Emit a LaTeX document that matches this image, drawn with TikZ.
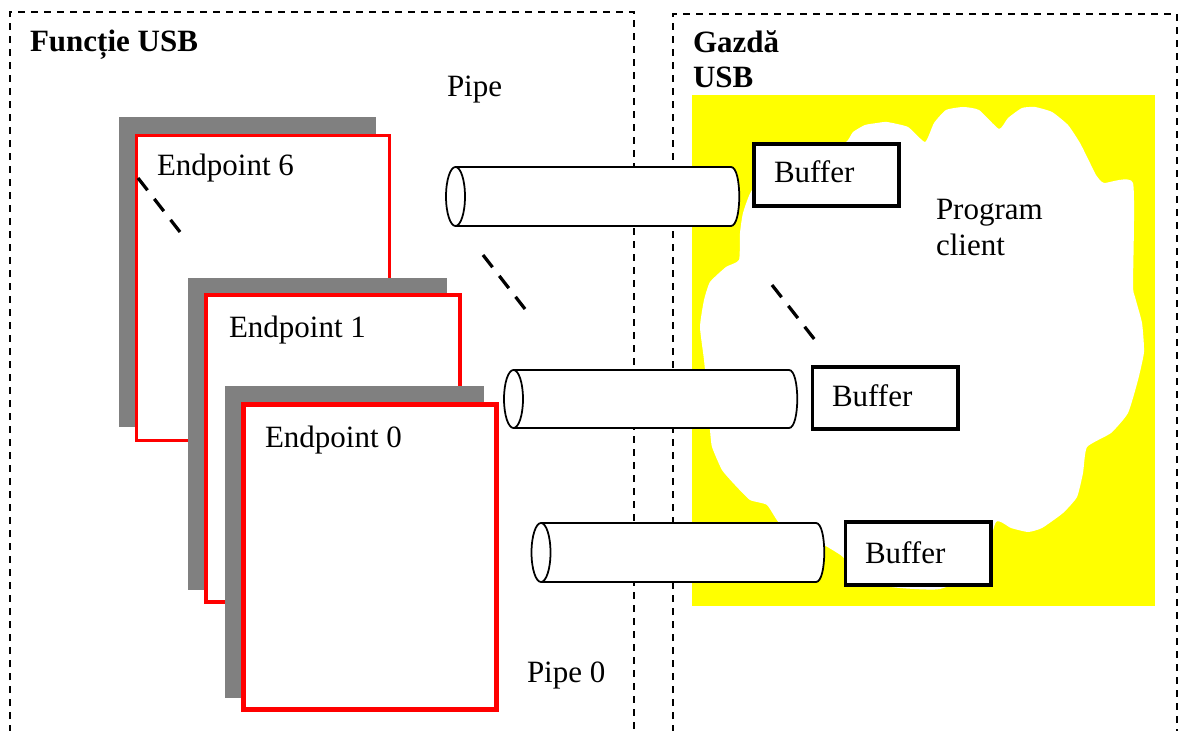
\documentclass[tikz,border=0pt]{standalone}
\usepackage{fontspec}
\setmainfont{Liberation Serif}
\definecolor{field}{RGB}{255,255,0}
\definecolor{epred}{RGB}{255,0,0}
\definecolor{epgray}{RGB}{128,128,128}

% USB pipe: open right end (half ellipse), closed left end (full ellipse)
% #1 left x, #2 right x, #3 centre y, #4 half height
\newcommand\drawpipe[4]{%
  \fill[white] (#1,#3-#4) -- (#2,#3-#4)
    .. controls (#2+11,#3-#4) and (#2+11,#3+#4) .. (#2,#3+#4)
    -- (#1,#3+#4) -- cycle;
  \draw[pipeline] (#1,#3-#4) -- (#2,#3-#4)
    .. controls (#2+11,#3-#4) and (#2+11,#3+#4) .. (#2,#3+#4)
    -- (#1,#3+#4);
  \draw[pipeline,fill=white] (#1,#3) ellipse [x radius=9.5, y radius=#4];
}

\begin{document}
\begin{tikzpicture}[x=0.4pt,y=-0.4pt,
  every node/.style={inner sep=0pt,outer sep=0pt},
  txt/.style={font=\fontsize{12.4}{14.4}\selectfont,anchor=base west},
  title/.style={txt,font=\fontsize{12.4}{14.4}\selectfont\bfseries},
  region/.style={line width=0.7pt,dash pattern=on 2.8pt off 2.4pt},
  shadow/.style={fill=epgray},
  epframe/.style={draw=epred,fill=white},
  pipeline/.style={line width=0.7pt,black},
  bufbox/.style={draw,line width=1.5pt,fill=white,rectangle,
    minimum width=58.1pt,minimum height=24.9pt},
  ellipsis/.style={line width=1.3pt,dash pattern=on 6.2pt off 4.4pt}
]
\useasboundingbox (0,0) rectangle (1179,731);
\clip (0,0) rectangle (1179,731);

% the two regions (function and host), open at the bottom
\draw[region] (10,745) -- (10,12) -- (634,12) -- (634,745);
\draw[region] (673,745) -- (673,14) -- (1177,14) -- (1177,745);

\node[title] (func) at (30,52) {Funcție USB};
\node[title] (host) at (693,53) {Gazdă};
\node[title] (hostusb) at (693,88) {USB};

% client software: white cloud on a yellow field
\fill[field] (692,95) rectangle (1155,606);
\fill[white] plot[smooth cycle,tension=0.3] coordinates {
  (752,190) (780,165) (820,150) (846,142) (853,132) (865,125) (877,123)
  (887,122) (908,127) (925,142) (934,123) (946,110) (963,107) (979,110)
  (999,129) (1008,118) (1022,108) (1035,107) (1052,112) (1068,125)
  (1080,143) (1090,163) (1096,175) (1104,183) (1133,183) (1133,285)
  (1135,297) (1142,323) (1144,352) (1138,380) (1128,413) (1111,433)
  (1087,447) (1083,473) (1077,497) (1063,513) (1042,528) (1028,532)
  (1011,528) (996,522) (980,570) (940,589) (900,588) (860,582)
  (843,557) (815,540) (781,525) (767,505) (750,500) (735,485) (722,470)
  (712,447) (710,430) (709,413) (704,360) (700,327) (704,300) (710,282)
  (726,267) (739,260) (740,233) (743,213)};

\node[txt] (prog) at (936,220) {Program};
\node[txt] (client) at (936,256) {client};

% endpoints, back to front
\fill[shadow] (119,117) rectangle (376,427);
\draw[epframe,line width=1.2pt] (136.5,135.5) rectangle (389.5,440.5);
\node[txt] (ep6) at (157,176) {Endpoint 6};

\fill[shadow] (188,278) rectangle (447,590);
\draw[epframe,line width=1.6pt] (206,295) rectangle (460,602);
\node[txt] (ep1) at (229,338) {Endpoint 1};

\fill[shadow] (225,386) rectangle (484,698);
\draw[epframe,line width=2pt] (243.5,404.5) rectangle (496.5,709.5);
\node[txt] (ep0) at (265,447) {Endpoint 0};

% pipes
\node[txt] (pipe) at (447,97) {Pipe};
\node[txt] (pipe0) at (527,682) {Pipe 0};
\drawpipe{455.5}{731}{196.5}{29.5}
\drawpipe{513.5}{789}{399}{29}
\drawpipe{541}{816}{552.5}{29.5}

% buffers
\node[bufbox] (buf1) at (826.5,175) {};
\node[txt] (buf1t) at (774,183) {Buffer};
\node[bufbox] (buf2) at (885,398) {};
\node[txt] (buf2t) at (832,407) {Buffer};
\node[bufbox] (buf3) at (918,553.5) {};
\node[txt] (buf3t) at (865,563) {Buffer};

% elision marks between the first and last items
\coordinate (e1a) at (138,178);  \coordinate (e1b) at (180,232);
\coordinate (e2a) at (483,255);  \coordinate (e2b) at (525,309);
\coordinate (e3a) at (772,285);  \coordinate (e3b) at (815,340);
\draw[ellipsis] (e1a) -- (e1b);
\draw[ellipsis] (e2a) -- (e2b);
\draw[ellipsis] (e3a) -- (e3b);
\end{tikzpicture}
\end{document}
